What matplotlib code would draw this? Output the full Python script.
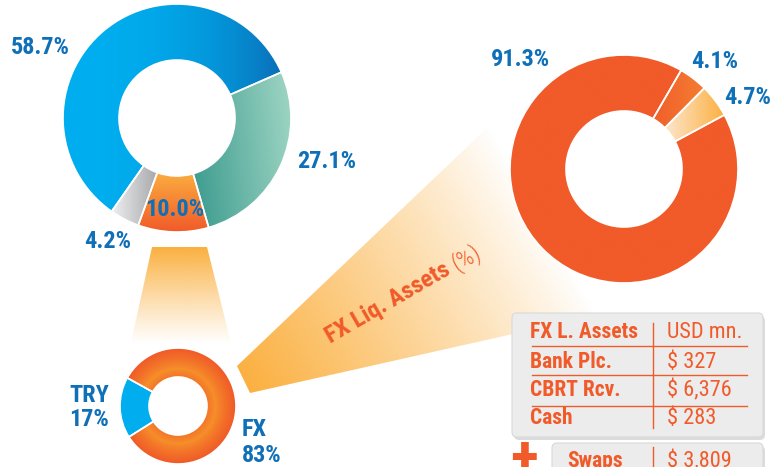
import numpy as np
import matplotlib.pyplot as plt
from matplotlib.patches import Polygon, FancyBboxPatch
from matplotlib.colors import to_rgb

plt.rcParams['font.family'] = ['Roboto Condensed', 'DejaVu Sans']

# data
mix_labels = ['58.7%', '4.2%', '10.0%', '27.1%']
mix_values = [58.7, 4.2, 10.0, 27.1]
fx_labels = ['91.3%', '4.1%', '4.7%']
fx_values = [91.3, 4.1, 4.7]
cur_names = ['TRY', 'FX']
cur_pcts = ['17%', '83%']
cur_values = [17, 83]
table_rows = ['FX L. Assets', 'Bank Plc.', 'CBRT Rcv.', 'Cash']
table_vals = ['USD mn.', '$ 327', '$ 6,376', '$ 283']
swap_label = 'Swaps'
swap_val = '$ 3,809'

BLUE_TXT = '#0f6fb7'
ORANGE = '#f15a29'


def wedge_box(w):
    t = np.radians(np.linspace(w.theta1, w.theta2, 60))
    xs = np.concatenate([w.center[0] + r * np.cos(t) for r in (w.r, w.r - w.width)])
    ys = np.concatenate([w.center[1] + r * np.sin(t) for r in (w.r, w.r - w.width)])
    return xs.min(), xs.max(), ys.min(), ys.max()


def grad_fill(ax, patch, box, c1, c2, angle=0, gamma=1.0, z=2):
    x0, x1, y0, y1 = box
    gx, gy = np.meshgrid(np.linspace(0, 1, 200), np.linspace(0, 1, 200))
    a = np.radians(angle)
    t = gx * np.cos(a) + gy * np.sin(a)
    t = ((t - t.min()) / (t.max() - t.min())) ** gamma
    c1 = np.array(to_rgb(c1))
    c2 = np.array(to_rgb(c2))
    img = c1 + (c2 - c1) * t[..., None]
    im = ax.imshow(img, extent=(x0, x1, y0, y1), origin='lower', zorder=z,
                   interpolation='bilinear', aspect='auto')
    im.set_clip_path(patch)


fig = plt.figure(figsize=(7.77, 4.67), dpi=100)
ax = fig.add_axes([0, 0, 1, 1])

# connector shapes (drawn first, underneath)
trap = Polygon([(152, 220), (207, 220), (232, 120), (130, 120)], closed=True,
               facecolor='none', edgecolor='none', zorder=1)
ax.add_patch(trap)
gx, gy = np.meshgrid(np.linspace(130, 232, 100), np.linspace(120, 220, 100))
img = np.zeros((100, 100, 4))
img[..., :3] = to_rgb('#fbb040')
img[..., 3] = np.clip((gy - 122) / 98, 0, 1) ** 1.1
im = ax.imshow(img, extent=(130, 232, 120, 220), origin='lower', zorder=1, aspect='auto')
im.set_clip_path(trap)

beam = Polygon([(237, 101), (250, 74), (620, 157), (530, 380)], closed=True,
               facecolor='none', edgecolor='none', zorder=1)
ax.add_patch(beam)
gx, gy = np.meshgrid(np.linspace(230, 620, 300), np.linspace(70, 380, 300))
a = np.radians(30)
d = (gx - 243) * np.cos(a) + (gy - 87) * np.sin(a)
img = np.zeros((300, 300, 4))
img[..., :3] = to_rgb('#fbb040')
img[..., 3] = np.clip(1 - d / 340, 0, 1) ** 0.9
im = ax.imshow(img, extent=(230, 620, 70, 380), origin='lower', zorder=1, aspect='auto')
im.set_clip_path(beam)

wp = dict(edgecolor='white', linewidth=1.2)

# top-left donut
w1, _ = ax.pie(mix_values, radius=114, center=(177, 349), startangle=23.7,
               wedgeprops=dict(width=56, **wp))
grads1 = [('#00aeef', '#0a6fb8', 0, 2.5),
          ('#eeeff0', '#a5a7aa', 0, 1.0),
          ('#f15a29', '#fbae40', 90, 1.0),
          ('#3a9a8e', '#a0d6c4', 10, 1.0)]
for w, (c1, c2, ang, g) in zip(w1, grads1):
    w.set_facecolor('none')
    w.set_zorder(3)
    grad_fill(ax, w, wedge_box(w), c1, c2, ang, g)

# right donut
w2, _ = ax.pie(fx_values, radius=114, center=(624, 298), startangle=28.3,
               counterclock=False, wedgeprops=dict(width=56, **wp))
grads2 = [(ORANGE, ORANGE, 0, 1.0),
          ('#f15f2b', '#f47d31', 0, 1.0),
          ('#fde6cc', '#fbb040', 0, 1.0)]
for w, (c1, c2, ang, g) in zip(w2, grads2):
    w.set_facecolor('none')
    w.set_zorder(3)
    grad_fill(ax, w, wedge_box(w), c1, c2, ang, g)

# small donut (TRY / FX)
w3, _ = ax.pie(cur_values, radius=58, center=(178, 61), startangle=151,
               colors=['#00aeef', 'none'], wedgeprops=dict(width=29, **wp))
for w in w3:
    w.set_zorder(3)
fxw = w3[1]
gx, gy = np.meshgrid(np.linspace(120, 236, 200), np.linspace(3, 119, 200))
dist = np.hypot(gx - 178, gy - 61)
t = np.clip((dist - 29) / 29, 0, 1)
t = np.abs(t - 0.3) / 0.7
c1 = np.array(to_rgb('#f6902a'))
c2 = np.array(to_rgb('#f05a28'))
img = c1 + (c2 - c1) * np.clip(t, 0, 1)[..., None] ** 0.8
im = ax.imshow(img, extent=(120, 236, 3, 119), origin='lower', zorder=2, aspect='auto')
im.set_clip_path(fxw)

# percent labels
lab_kw = dict(color=BLUE_TXT, fontsize=17.5, fontweight='bold', ha='center', va='center', zorder=5)
mix_pos = [(40, 419), (108, 225), (175, 257), (327, 306)]
for s, (x, y) in zip(mix_labels, mix_pos):
    ax.text(x, y, s, **lab_kw)
fx_pos = [(520, 408), (715, 405), (748, 370)]
for s, (x, y) in zip(fx_labels, fx_pos):
    ax.text(x, y, s, **lab_kw)
ax.text(109, 72, cur_names[0], **{**lab_kw, 'ha': 'right'})
ax.text(109, 47, cur_pcts[0], **{**lab_kw, 'ha': 'right'})
ax.text(242, 37, cur_names[1], **{**lab_kw, 'ha': 'left'})
ax.text(242, 12, cur_pcts[1], **{**lab_kw, 'ha': 'left'})

# rotated title on the beam
rot = 30
ax.text(452, 193, 'FX Liq. Assets', color=ORANGE, fontsize=17.5, fontweight='bold',
        rotation=rot, rotation_mode='anchor', ha='right', va='baseline', zorder=5)
ax.text(452 + 5 * np.cos(np.radians(rot)), 193 + 5 * np.sin(np.radians(rot)), '(%)',
        color=ORANGE, fontsize=17.5, fontweight='light', rotation=rot, rotation_mode='anchor',
        ha='left', va='baseline', zorder=5)

# table box
for (bx, by, bw, bh) in [(512, 30, 251, 124), (552, -20, 211, 44)]:
    ax.add_patch(FancyBboxPatch((bx + 2, by - 3), bw, bh, boxstyle='round,pad=0,rounding_size=5',
                                facecolor='#bbbbbb', edgecolor='none', alpha=0.5, zorder=3))
    ax.add_patch(FancyBboxPatch((bx, by), bw, bh, boxstyle='round,pad=0,rounding_size=5',
                                facecolor='#ececec', edgecolor='#d9d9d9', linewidth=0.8, zorder=4))

row_y = [135, 105, 77, 49]
for name, val, y in zip(table_rows, table_vals, row_y):
    ax.text(530, y, name, color=ORANGE, fontsize=15.5, fontweight='bold', va='center', zorder=5)
    ax.text(667, y, val, color=ORANGE, fontsize=16, va='center', zorder=5)
for y in [121, 92, 61]:
    ax.plot([532, 747], [y, y], color=ORANGE, lw=1, zorder=5)
ax.plot([653, 653], [39, 144], color=ORANGE, lw=1, zorder=5)

ax.text(567, 6, swap_label, color=ORANGE, fontsize=15.5, fontweight='bold', va='center', zorder=5)
ax.text(667, 6, swap_val, color=ORANGE, fontsize=16, va='center', zorder=5)
ax.plot([653, 653], [-5, 20], color=ORANGE, lw=1, zorder=5)
ax.text(524, 6, '+', color=ORANGE, fontsize=42, fontweight='bold', ha='center', va='center', zorder=5)

ax.set_xlim(0, 777)
ax.set_ylim(0, 467)
ax.set_aspect('auto')
ax.axis('off')

fig.savefig('out.png', dpi=100)
